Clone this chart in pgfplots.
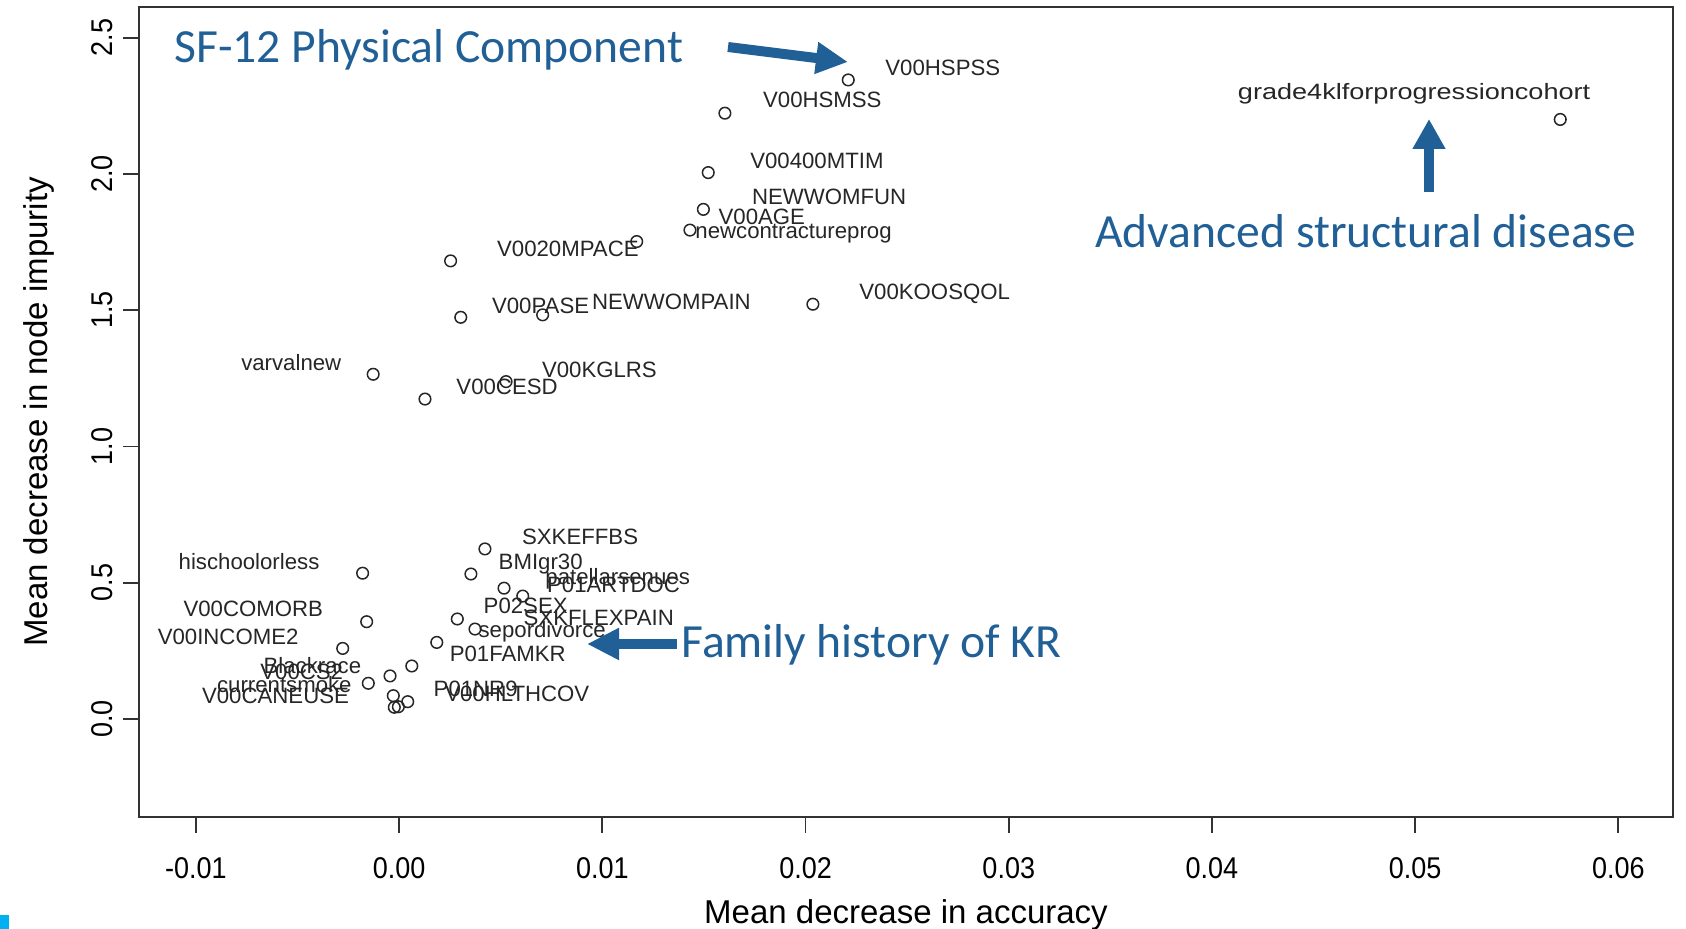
\documentclass[border=0pt]{standalone}
\usepackage{pgfplots}
\pgfplotsset{compat=1.18}
\usepackage{fontspec}
\setmainfont{Liberation Sans}
\newfontfamily\ticksf[FakeStretch=0.9]{Liberation Sans}
\newfontfamily\widesf[FakeStretch=1.22]{Liberation Sans}
\newfontfamily\notefont{Carlito}
\usetikzlibrary{arrows.meta}

\definecolor{noteblue}{RGB}{33,96,150}
\definecolor{slidecyan}{RGB}{0,176,240}

\tikzset{
  vlab/.style={anchor=base west, inner sep=0pt, yshift=-4pt, text=black!85,
    font=\fontsize{11.1}{11.1}\selectfont},
  note/.style={anchor=base west, inner sep=0pt, text=noteblue,
    font=\notefont\fontsize{23.8}{23.8}\selectfont},
}

% variable importance: mean decrease in accuracy vs. mean decrease in node impurity
\pgfplotstableread{
acc      gini
0.02210  2.345
0.01603  2.223
0.05714  2.200
0.01521  2.005
0.01497  1.870
0.01431  1.794
0.01169  1.752
0.00253  1.681
0.00303  1.474
0.00706  1.483
0.02036  1.522
-0.00128 1.265
0.00526  1.238
0.00127  1.174
0.00422  0.624
0.00353  0.532
0.00516  0.480
0.00608  0.451
0.00286  0.367
0.00373  0.330
0.00185  0.281
-0.00180 0.535
-0.00160 0.357
-0.00278 0.259
0.00062  0.1945
-0.00045 0.158
-0.00152 0.131
-0.00029 0.0855
0.00042  0.0635
-0.00004 0.045
-0.00024 0.043
}\importance

\begin{document}
\begin{tikzpicture}
\useasboundingbox (0,0) rectangle (843pt,464.5pt);
\begin{axis}[
  at={(69.5pt,56pt)}, anchor=south west,
  width=767pt, height=405pt, scale only axis,
  xmin=-0.012805, xmax=0.06269, ymin=-0.3596, ymax=2.6127,
  xtick={-0.01,0,0.01,0.02,0.03,0.04,0.05,0.06},
  xticklabels={-0.01,0.00,0.01,0.02,0.03,0.04,0.05,0.06},
  ytick={0,0.5,1,1.5,2,2.5},
  yticklabels={0.0,0.5,1.0,1.5,2.0,2.5},
  scaled x ticks=false, scaled y ticks=false,
  tick align=outside, tick pos=left, major tick length=8pt,
  axis line style={line width=1pt, black!80},
  every tick/.style={black!80, line width=0.9pt},
  /pgf/number format/assume math mode=true,
  xticklabel style={font=\ticksf\fontsize{15}{15}\selectfont, anchor=north, yshift=-8.6pt},
  yticklabel style={font=\ticksf\fontsize{15}{15}\selectfont, rotate=90, anchor=south, yshift=1.6pt},
  xlabel={Mean decrease in accuracy},
  ylabel={Mean decrease in node impurity},
  label style={font=\fontsize{16.5}{16.5}\selectfont},
  xlabel style={at={(axis description cs:0.5,0)}, anchor=center, yshift=-49pt},
  ylabel style={at={(axis description cs:0,0.5)}, anchor=center, yshift=50.2pt},
  clip=false,
]
\addplot[only marks, mark=o, mark size=2.9pt,
  mark options={line width=0.75pt, draw=black!85}] table[x=acc, y=gini] {\importance};

\node[vlab] at (axis cs:0.02391,2.392) {V00HSPSS};
\node[vlab] at (axis cs:0.01789,2.272) {V00HSMSS};
\node[vlab, font=\widesf\fontsize{11.1}{11.1}\selectfont] at (axis cs:0.04126,2.303) {grade4klforprogressioncohort};
\node[vlab] at (axis cs:0.01726,2.051) {V00400MTIM};
\node[vlab] at (axis cs:0.01735,1.917) {NEWWOMFUN};
\node[vlab] at (axis cs:0.01570,1.843) {V00AGE};
\node[vlab] at (axis cs:0.01456,1.791) {newcontractureprog};
\node[vlab] at (axis cs:0.00480,1.727) {V0020MPACE};
\node[vlab] at (axis cs:0.00455,1.519) {V00PASE};
\node[vlab] at (axis cs:0.00947,1.531) {NEWWOMPAIN};
\node[vlab] at (axis cs:0.02263,1.569) {V00KOOSQOL};
\node[vlab] at (axis cs:-0.00779,1.309) {varvalnew};
\node[vlab] at (axis cs:0.00701,1.281) {V00KGLRS};
\node[vlab] at (axis cs:0.00280,1.219) {V00CESD};
\node[vlab] at (axis cs:0.00603,0.669) {SXKEFFBS};
\node[vlab] at (axis cs:-0.01087,0.577) {hischoolorless};
\node[vlab] at (axis cs:0.00488,0.577) {BMIgr30};
\node[vlab] at (axis cs:0.00718,0.522) {patellarsenues};
\node[vlab] at (axis cs:0.00726,0.492) {P01ARTDOC};
\node[vlab] at (axis cs:0.00414,0.415) {P02SEX};
\node[vlab] at (axis cs:-0.01063,0.406) {V00COMORB};
\node[vlab] at (axis cs:0.00611,0.373) {SXKFLEXPAIN};
\node[vlab] at (axis cs:0.00389,0.327) {sepordivorce};
\node[vlab] at (axis cs:-0.01190,0.302) {V00INCOME2};
\node[vlab] at (axis cs:0.00247,0.241) {P01FAMKR};
\node[vlab] at (axis cs:-0.00669,0.198) {Blackrace};
\node[vlab] at (axis cs:-0.00685,0.174) {V00CS2};
\node[vlab] at (axis cs:-0.00898,0.127) {currentsmoke};
\node[vlab] at (axis cs:0.00168,0.113) {P01NR9};
\node[vlab] at (axis cs:0.00225,0.092) {V00HLTHCOV};
\node[vlab] at (axis cs:-0.00972,0.088) {V00CANEUSE};
\end{axis}

% callouts, laid out in a top-down unit grid of half points
\begin{scope}[x=0.5pt, y=-0.5pt, shift={(0pt,464.5pt)}]
  \fill[slidecyan] (0,915) rectangle (9,929);
  \node[note] at (174,63) {SF-12 Physical Component};
  \node[note] at (1095,248) {Advanced structural disease};
  \node[note] at (681,658) {Family history of KR};
  \draw[noteblue, line width=5pt, -{Triangle[length=16pt,width=15pt]}] (728,47) -- (848,62);
  \draw[noteblue, line width=5pt, -{Triangle[length=15pt,width=15.5pt]}] (1429,192) -- (1429,119);
  \draw[noteblue, line width=5pt, -{Triangle[length=16pt,width=15pt]}] (677,644) -- (587,644);
\end{scope}
\end{tikzpicture}
\end{document}
